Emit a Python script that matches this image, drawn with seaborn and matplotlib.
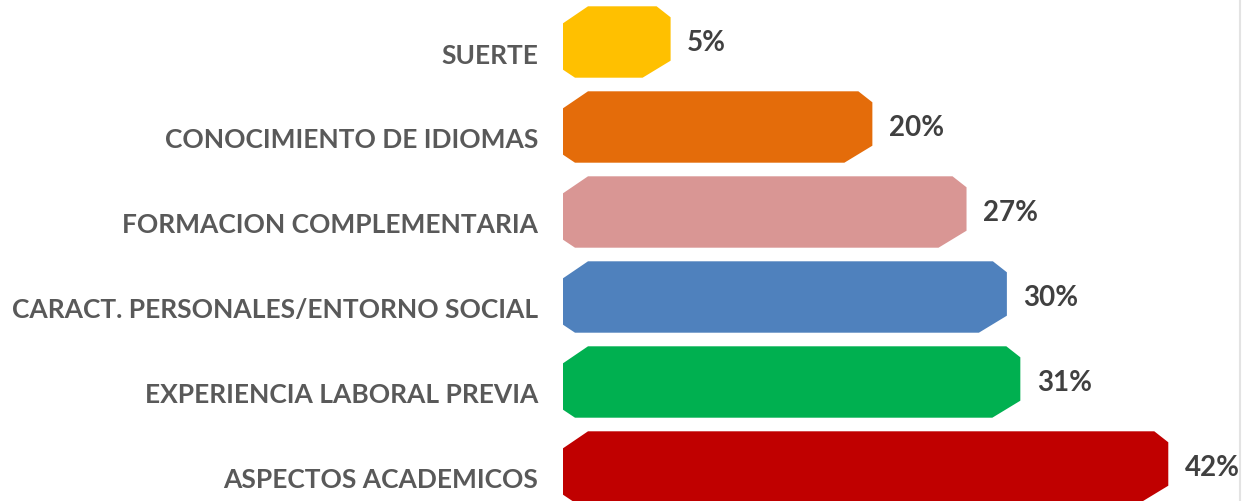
import matplotlib
matplotlib.use("Agg")
import matplotlib.pyplot as plt
from matplotlib.patches import Polygon
import seaborn as sns
import pandas as pd

# chart values (top to bottom)
categories = [
    "SUERTE",
    "CONOCIMIENTO DE IDIOMAS",
    "FORMACION COMPLEMENTARIA",
    "CARACT. PERSONALES/ENTORNO SOCIAL",
    "EXPERIENCIA LABORAL PREVIA",
    "ASPECTOS ACADEMICOS",
]
percentages = [5, 20, 27, 30, 31, 42]
bar_colors = ["#FFC000", "#E46C0A", "#D99694", "#4F81BD", "#00B050", "#C00000"]

df = pd.DataFrame({"factor": categories, "pct": percentages})

sns.set_theme(style="white")
plt.rcParams["font.family"] = ["Lato", "DejaVu Sans"]

W, H = 1249, 502
fig = plt.figure(figsize=(W / 100, H / 100), dpi=100)
ax = fig.add_axes([563 / W, 0, 1 - 563 / W, 1])

sns.barplot(data=df, x="pct", y="factor", hue="factor", palette=bar_colors,
            legend=False, orient="h", width=0.84, ax=ax, saturation=1)

x0 = -3.0
x1 = 48.0
y_top_lim, y_bot_lim = -43 / 85, 5 + (H - 468) / 85
ax.set_xlim(x0, x1)
ax.set_ylim(y_bot_lim, y_top_lim)

# pixel -> data unit factors
px_x = (x1 - x0) / (W - 563)
px_y = (y_bot_lim - y_top_lim) / H

# value labels
for c in ax.containers:
    ax.bar_label(c, fmt="{:g}%", padding=12, fontsize=20, fontweight="bold",
                 color="#404040")

# redraw bars with chamfered corners, starting slightly left of zero
for p in list(ax.patches):
    p.set_visible(False)
    y_top = p.get_y()
    y_bot = p.get_y() + p.get_height()
    right = p.get_x() + p.get_width()
    left = x0
    pts = [
        (left + 25 * px_x, y_top),
        (right - 14 * px_x, y_top),
        (right, y_top + 11 * px_y),
        (right, y_bot - 17 * px_y),
        (right - 28 * px_x, y_bot),
        (left + 12 * px_x, y_bot),
        (left, y_bot - 8 * px_y),
        (left, y_top + 17 * px_y),
    ]
    ax.add_patch(Polygon(pts, closed=True, facecolor=p.get_facecolor(),
                         edgecolor="none"))

# category labels, sitting a little below the bar centre
ax.set_yticks([])
for i, cat in enumerate(categories):
    ax.annotate(cat, xy=(x0, i), xytext=(-18, -9), textcoords="offset points",
                ha="right", va="center", fontsize=19, fontweight="bold",
                color="#595959", annotation_clip=False)

ax.set_xlabel("")
ax.set_ylabel("")
ax.set_xticks([])
sns.despine(ax=ax, left=True, bottom=True)

# light chart border on the right
fig.add_artist(plt.Line2D([1240 / W, 1240 / W], [0, 1], color="#E3E3E3", lw=1.5))

fig.savefig("out.png", dpi=100)
